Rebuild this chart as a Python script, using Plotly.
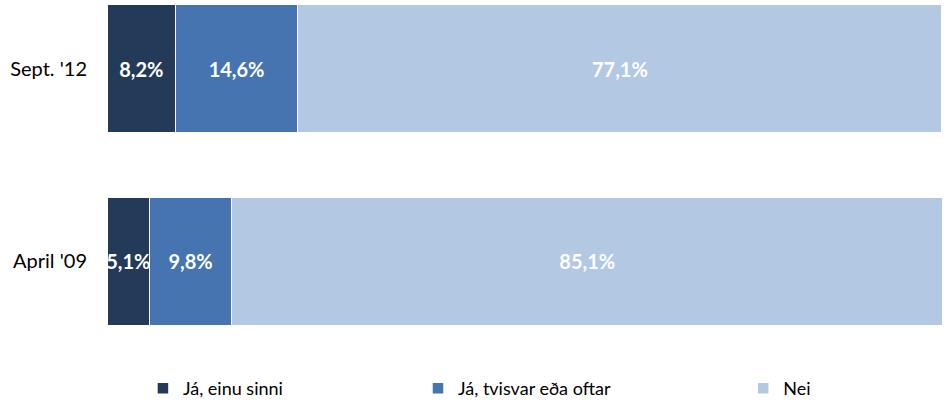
import plotly.graph_objects as go

# Survey periods (bottom to top) and response shares in percent
periods = ["April '09", "Sept. '12"]
once = [5.1, 8.2]
twice_or_more = [9.8, 14.6]
no = [85.1, 77.1]

series_names = ["Já, einu sinni", "Já, tvisvar eða oftar", "Nei"]
series_values = [once, twice_or_more, no]
colors = ["#233a59", "#4574b0", "#b3c8e3"]
legend_ids = ["legend", "legend2", "legend3"]
legend_x = [0.043, 0.372, 0.761]


def pct_label(v):
    return f"{v:.1f}".replace(".", ",") + "%"


fig = go.Figure()
for name, vals, color, lg in zip(series_names, series_values, colors, legend_ids):
    fig.add_trace(go.Bar(
        y=periods,
        x=vals,
        name=name,
        orientation="h",
        marker=dict(color=color, line=dict(color="white", width=1.5)),
        text=[pct_label(v) for v in vals],
        textposition="inside",
        insidetextanchor="middle",
        textangle=0,
        constraintext="none",
        textfont=dict(family="Lato, sans-serif", size=20, color="white", weight="bold"),
        legend=lg,
    ))

legend_common = dict(
    orientation="h",
    yanchor="bottom",
    y=0,
    xanchor="left",
    font=dict(family="Lato, sans-serif", size=18, color="#000000"),
    bgcolor="rgba(0,0,0,0)",
    itemwidth=30,
)

fig.update_layout(
    width=949,
    height=407,
    margin=dict(l=107, r=6, t=0, b=0),
    paper_bgcolor="white",
    plot_bgcolor="white",
    barmode="stack",
    bargap=0.33,
    showlegend=True,
    legend=dict(x=legend_x[0], **legend_common),
    legend2=dict(x=legend_x[1], **legend_common),
    legend3=dict(x=legend_x[2], **legend_common),
    xaxis=dict(range=[0, 100], visible=False, fixedrange=True),
    yaxis=dict(
        domain=[62 / 407, 1],
        range=[-0.435, 1.357],
        showgrid=False,
        zeroline=False,
        showline=False,
        ticks="",
        ticklabelstandoff=19,
        tickfont=dict(family="Lato, sans-serif", size=20, color="#000000"),
    ),
)

fig.write_html("out.html")
